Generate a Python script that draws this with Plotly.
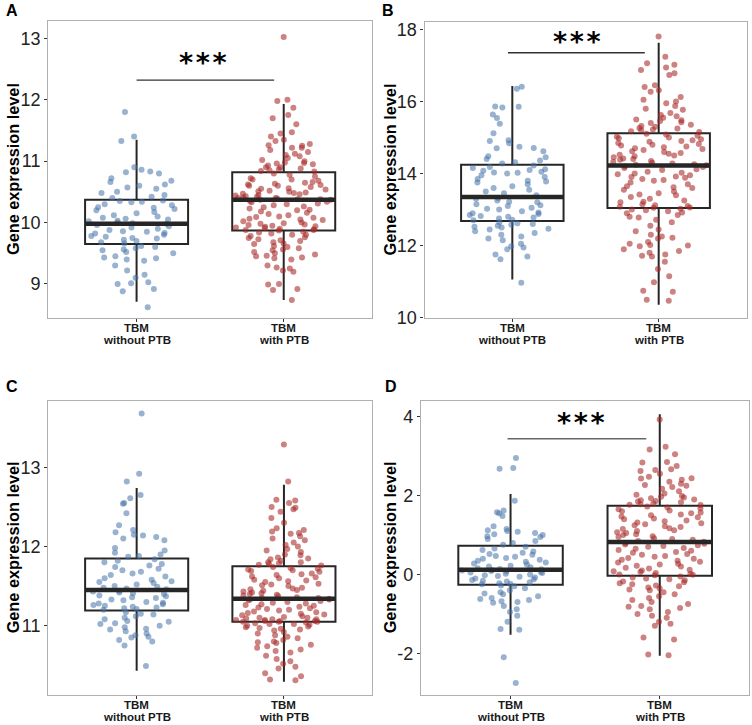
import plotly.graph_objects as go

# ---- data ----
CAT_LINE1 = ["TBM", "TBM"]
CAT_LINE2 = ["without PTB", "with PTB"]
PANELS = ["A", "B", "C", "D"]

A_WITHOUT = [
    11.80, 11.40, 11.33, 10.90, 10.86, 10.83, 10.82, 10.80, 10.72, 10.68, 10.66, 10.62, 10.60, 10.57,
    10.55, 10.50, 10.48, 10.45, 10.42, 10.40, 10.36, 10.35, 10.34, 10.33, 10.30, 10.28, 10.25, 10.24,
    10.22, 10.20, 10.17, 10.15, 10.12, 10.10, 10.08, 10.06, 10.05, 10.03, 10.02, 10.00, 9.99, 9.98,
    9.96, 9.94, 9.92, 9.90, 9.88, 9.86, 9.85, 9.83, 9.82, 9.80, 9.78, 9.77, 9.75, 9.74, 9.72, 9.70,
    9.68, 9.66, 9.62, 9.60, 9.58, 9.56, 9.55, 9.52, 9.50, 9.45, 9.43, 9.42, 9.40, 9.38, 9.30, 9.22,
    9.15, 9.10, 9.03, 9.01, 9.00, 8.92, 8.88, 8.62,
]
A_WITH = [
    13.02, 12.00, 11.98, 11.87, 11.75, 11.70, 11.60, 11.47, 11.45, 11.40, 11.35, 11.33, 11.28, 11.26,
    11.25, 11.22, 11.22, 11.18, 11.15, 11.12, 11.10, 11.08, 11.05, 11.02, 11.00, 10.98, 10.97, 10.96,
    10.95, 10.93, 10.90, 10.90, 10.88, 10.87, 10.85, 10.84, 10.83,
    10.80, 10.78, 10.75, 10.72, 10.70, 10.70, 10.68, 10.66, 10.65, 10.63, 10.62, 10.61, 10.60, 10.60,
    10.58, 10.56, 10.55, 10.54, 10.52, 10.51, 10.50, 10.49, 10.48, 10.47, 10.46, 10.45, 10.44, 10.43,
    10.42, 10.41, 10.40, 10.40, 10.39, 10.38, 10.38, 10.37, 10.37,
    10.35, 10.34, 10.33, 10.31, 10.30, 10.28, 10.26, 10.25, 10.23, 10.21, 10.20, 10.18, 10.16, 10.14,
    10.12, 10.10, 10.09, 10.08, 10.06, 10.05, 10.04, 10.02, 10.00, 9.99, 9.98, 9.97, 9.96, 9.95, 9.94,
    9.93, 9.92, 9.91, 9.90, 9.89, 9.88, 9.88, 9.87,
    9.85, 9.84, 9.82, 9.80, 9.80, 9.78, 9.76, 9.75, 9.73, 9.71, 9.70, 9.68, 9.66, 9.65, 9.62, 9.60,
    9.58, 9.56, 9.55, 9.52, 9.50, 9.48, 9.46, 9.45, 9.43, 9.42, 9.40, 9.30, 9.27, 9.25, 9.22, 9.20,
    9.00, 8.99, 8.92, 8.90, 8.74,
]

B_WITHOUT = [
    16.41, 16.35, 15.86, 15.85, 15.83, 15.64, 15.54, 15.38, 15.12, 14.92, 14.90, 14.84, 14.74, 14.71,
    14.70, 14.62, 14.48, 14.45, 14.40, 14.36, 14.31, 14.28,
    14.22, 14.18, 14.15, 14.12, 14.10, 14.08, 14.05, 14.03, 14.02, 14.00, 13.95, 13.90, 13.85, 13.80,
    13.78, 13.75, 13.70, 13.65, 13.60, 13.55, 13.50, 13.45, 13.40,
    13.32, 13.30, 13.25, 13.22, 13.20, 13.15, 13.12, 13.10, 13.05, 13.02, 13.00, 12.95, 12.92, 12.90,
    12.88, 12.85, 12.82, 12.80, 12.78, 12.75, 12.72, 12.70,
    12.65, 12.62, 12.60, 12.58, 12.55, 12.52, 12.50, 12.47, 12.45, 12.40, 12.35, 12.30, 12.25, 12.20,
    12.15, 12.05, 11.98, 11.95, 11.90, 11.75, 11.70, 11.62, 10.97,
]
B_WITH = [
    17.80, 17.24, 17.06, 17.02, 16.94, 16.87, 16.78, 16.73, 16.45, 16.40, 16.31, 16.27, 16.12, 16.05,
    16.00, 15.95, 15.87, 15.80, 15.77, 15.68, 15.62, 15.59, 15.55, 15.50, 15.48, 15.46, 15.42, 15.40,
    15.35, 15.32, 15.30, 15.26, 15.25, 15.22, 15.20, 15.17, 15.15,
    15.10, 15.08, 15.05, 15.02, 15.00, 14.98, 14.95, 14.92, 14.90, 14.88, 14.85, 14.82, 14.80, 14.78,
    14.75, 14.73, 14.70, 14.68, 14.65, 14.62, 14.60, 14.57, 14.55, 14.52, 14.50, 14.48, 14.45, 14.42,
    14.40, 14.38, 14.35, 14.32, 14.30, 14.28, 14.26, 14.24, 14.23,
    14.20, 14.18, 14.15, 14.12, 14.10, 14.05, 14.02, 14.00, 13.98, 13.95, 13.92, 13.90, 13.88, 13.85,
    13.82, 13.80, 13.75, 13.70, 13.65, 13.62, 13.60, 13.55, 13.50, 13.45, 13.42, 13.40, 13.35, 13.30,
    13.25, 13.22, 13.20, 13.15, 13.12, 13.10, 13.08, 13.06, 13.05,
    13.02, 13.00, 12.98, 12.95, 12.92, 12.90, 12.85, 12.80, 12.78, 12.72, 12.65, 12.55, 12.45, 12.40,
    12.30, 12.25, 12.22, 12.20, 12.10, 12.05, 12.02, 12.00, 11.98, 11.90, 11.85, 11.80, 11.75, 11.72,
    11.70, 11.55, 11.35, 11.15, 10.98, 10.75, 10.72, 10.50, 10.47,
]

C_WITHOUT = [
    13.68, 12.92, 12.82, 12.65, 12.61, 12.55, 12.54, 12.42, 12.27, 12.21, 12.18, 12.15, 12.14, 12.12,
    12.10, 12.08, 11.98, 11.95, 11.92, 11.90, 11.88, 11.87,
    11.84, 11.82, 11.80, 11.78, 11.76, 11.74, 11.72, 11.70, 11.68, 11.66, 11.64, 11.62, 11.60, 11.58,
    11.56, 11.55, 11.54, 11.52, 11.50, 11.49, 11.48, 11.47, 11.46,
    11.44, 11.43, 11.42, 11.41, 11.40, 11.38, 11.37, 11.36, 11.35, 11.33, 11.32, 11.30, 11.29, 11.28,
    11.27, 11.26, 11.25, 11.24, 11.23, 11.22, 11.21, 11.20,
    11.17, 11.15, 11.14, 11.12, 11.10, 11.08, 11.06, 11.05, 11.03, 11.02, 11.00, 10.98, 10.96, 10.95,
    10.93, 10.90, 10.88, 10.86, 10.85, 10.82, 10.80, 10.75, 10.49,
]
C_WITH = [
    13.29, 12.82, 12.59, 12.58, 12.55, 12.50, 12.49, 12.47, 12.44, 12.36, 12.30, 12.23, 12.21, 12.19,
    12.17, 12.16, 12.13, 12.10, 12.08, 12.05, 12.02, 12.00, 11.97, 11.95, 11.93, 11.90, 11.89, 11.86,
    11.85, 11.84, 11.82, 11.80, 11.80, 11.79, 11.78, 11.77, 11.76,
    11.74, 11.73, 11.72, 11.71, 11.70, 11.69, 11.68, 11.66, 11.65, 11.64, 11.62, 11.61, 11.60, 11.58,
    11.57, 11.56, 11.55, 11.53, 11.52, 11.51, 11.50, 11.48, 11.47, 11.46, 11.45, 11.44, 11.43, 11.42,
    11.41, 11.40, 11.39, 11.38, 11.37, 11.36, 11.35, 11.35, 11.34,
    11.33, 11.33, 11.32, 11.31, 11.30, 11.29, 11.28, 11.27, 11.26, 11.25, 11.24, 11.23, 11.22, 11.21,
    11.20, 11.19, 11.18, 11.17, 11.16, 11.15, 11.14, 11.13, 11.12, 11.11, 11.10, 11.10, 11.09, 11.08,
    11.08, 11.07, 11.07, 11.06, 11.06, 11.06, 11.05, 11.05, 11.05,
    11.04, 11.03, 11.02, 11.02, 11.01, 11.00, 10.99, 10.98, 10.97, 10.96, 10.95, 10.94, 10.92, 10.90,
    10.88, 10.86, 10.84, 10.82, 10.80, 10.79, 10.78, 10.76, 10.74, 10.72, 10.70, 10.68, 10.66, 10.62,
    10.58, 10.55, 10.52, 10.48, 10.46, 10.40, 10.36, 10.32, 10.31,
]

D_WITHOUT = [
    2.95, 2.70, 2.68, 1.87, 1.62, 1.58, 1.55, 1.48, 1.22, 1.15, 1.12, 1.10, 1.08, 1.05, 1.02, 1.00,
    0.97, 0.95, 0.90, 0.85, 0.80, 0.75,
    0.70, 0.66, 0.62, 0.58, 0.55, 0.52, 0.50, 0.47, 0.45, 0.42, 0.40, 0.37, 0.35, 0.32, 0.30, 0.28,
    0.25, 0.22, 0.20, 0.18, 0.16, 0.14, 0.13,
    0.11, 0.10, 0.09, 0.08, 0.06, 0.05, 0.04, 0.02, 0.00, -0.02, -0.04, -0.06, -0.08, -0.10, -0.12,
    -0.14, -0.16, -0.18, -0.20, -0.22, -0.24, -0.25,
    -0.28, -0.30, -0.35, -0.40, -0.45, -0.48, -0.50, -0.55, -0.60, -0.62, -0.65, -0.68, -0.70, -0.72,
    -0.80, -0.88, -0.95, -1.05, -1.20, -1.38, -1.40, -2.10, -2.75,
]
D_WITH = [
    3.93, 3.24, 3.17, 3.05, 2.85, 2.84, 2.75, 2.67, 2.65, 2.62, 2.55, 2.48, 2.44, 2.43, 2.40, 2.35,
    2.30, 2.27, 2.25, 2.22, 2.17, 2.11, 2.05, 2.02, 1.99, 1.97, 1.95, 1.93, 1.90, 1.88, 1.86, 1.85,
    1.83, 1.80, 1.78, 1.77, 1.76,
    1.72, 1.70, 1.68, 1.65, 1.62, 1.60, 1.57, 1.55, 1.52, 1.50, 1.47, 1.45, 1.42, 1.40, 1.37, 1.35,
    1.32, 1.30, 1.27, 1.25, 1.22, 1.20, 1.17, 1.15, 1.12, 1.10, 1.07, 1.05, 1.02, 1.00, 0.97, 0.95,
    0.92, 0.90, 0.88, 0.85, 0.83,
    0.80, 0.78, 0.76, 0.74, 0.72, 0.70, 0.67, 0.65, 0.62, 0.60, 0.57, 0.55, 0.52, 0.50, 0.47, 0.45,
    0.42, 0.40, 0.37, 0.35, 0.32, 0.30, 0.27, 0.25, 0.22, 0.20, 0.17, 0.15, 0.12, 0.10, 0.08, 0.06,
    0.04, 0.02, 0.00, -0.01, -0.02,
    -0.05, -0.08, -0.10, -0.12, -0.15, -0.18, -0.20, -0.22, -0.25, -0.28, -0.30, -0.33, -0.35, -0.38,
    -0.40, -0.45, -0.50, -0.55, -0.60, -0.65, -0.70, -0.75, -0.80, -0.82, -0.85, -0.88, -0.95, -1.00,
    -1.05, -1.10, -1.20, -1.25, -1.30, -1.60, -1.65, -2.03, -2.05,
]

# box statistics per panel: [without PTB, with PTB]
A_Q1, A_MEDIAN, A_Q3, A_LOWER, A_UPPER = [9.65, 9.87], [9.98, 10.37], [10.37, 10.82], [8.71, 8.74], [11.35, 11.93]
B_Q1, B_MEDIAN, B_Q3, B_LOWER, B_UPPER = [12.68, 13.04], [13.35, 14.22], [14.24, 15.12], [11.06, 10.36], [16.43, 17.63]
C_Q1, C_MEDIAN, C_Q3, C_LOWER, C_UPPER = [11.19, 11.05], [11.45, 11.34], [11.85, 11.75], [10.43, 10.29], [12.74, 12.78]
D_Q1, D_MEDIAN, D_Q3, D_LOWER, D_UPPER = [-0.26, -0.03], [0.12, 0.82], [0.73, 1.74], [-1.53, -2.06], [2.04, 4.06]

A_TICKS = [9, 10, 11, 12, 13]
B_TICKS = [10, 12, 14, 16, 18]
C_TICKS = [11, 12, 13]
D_TICKS = [-2, 0, 2, 4]

SIGNIF_LABEL = "***"

# ---- layout geometry (pixels in a 752x725 page) ----
W, H = 752, 725
FONT = "Liberation Sans, Arial, sans-serif"
BLUE = "rgba(70,115,168,0.55)"
RED = "rgba(168,40,40,0.58)"
BOX_LINE = "#262626"
BOX_WIDTH = 0.7

panels = {
    "A": dict(px=(48.3, 372.0), py=(20.7, 318.3), xr=(0.4, 2.6), yr=(8.441, 13.287),
              ticks=A_TICKS, pts=(A_WITHOUT, A_WITH),
              stats=(A_Q1, A_MEDIAN, A_Q3, A_LOWER, A_UPPER),
              sig=dict(x0=1.0, x1=1.935, y=12.32, tx=1.45, ty=12.61, color="#333")),
    "B": dict(px=(424.5, 746.5), py=(21.7, 318.3), xr=(0.4, 2.6), yr=(9.983, 18.212),
              ticks=B_TICKS, pts=(B_WITHOUT, B_WITH),
              stats=(B_Q1, B_MEDIAN, B_Q3, B_LOWER, B_UPPER),
              sig=dict(x0=0.97, x1=1.905, y=17.35, tx=1.44, ty=17.66, color="#333")),
    "C": dict(px=(48.3, 372.3), py=(400.7, 695.0), xr=(0.4, 2.6), yr=(10.124, 13.842),
              ticks=C_TICKS, pts=(C_WITHOUT, C_WITH),
              stats=(C_Q1, C_MEDIAN, C_Q3, C_LOWER, C_UPPER), sig=None),
    "D": dict(px=(421.0, 749.3), py=(400.7, 695.0), xr=(0.4, 2.6), yr=(-3.056, 4.405),
              ticks=D_TICKS, pts=(D_WITHOUT, D_WITH),
              stats=(D_Q1, D_MEDIAN, D_Q3, D_LOWER, D_UPPER),
              sig=dict(x0=0.98, x1=1.91, y=3.44, tx=1.47, ty=3.85, color="#666")),
}
letter_pos = {"A": (4, 11), "B": (380, 11), "C": (4, 386), "D": (383, 386)}
ytitle_x = {"A": 12.5, "B": 389.5, "C": 12.5, "D": 389.5}

fig = go.Figure()
layout = {}
annotations = []
shapes = []

for i, name in enumerate(PANELS):
    p = panels[name]
    sfx = "" if i == 0 else str(i + 1)
    xa, ya = "x" + sfx, "y" + sfx
    q1, med, q3, lo, hi = p["stats"]

    # boxes
    fig.add_trace(go.Box(
        x=[1, 2], q1=q1, median=med, q3=q3, lowerfence=lo, upperfence=hi,
        width=BOX_WIDTH, whiskerwidth=0, fillcolor="white",
        line=dict(color=BOX_LINE, width=2), boxpoints=False,
        showlegend=False, hoverinfo="skip", xaxis=xa, yaxis=ya,
    ))
    # thicker median bars
    for k, m in enumerate(med):
        fig.add_trace(go.Scatter(
            x=[k + 1 - BOX_WIDTH / 2, k + 1 + BOX_WIDTH / 2], y=[m, m], mode="lines",
            line=dict(color=BOX_LINE, width=4.5), showlegend=False, hoverinfo="skip",
            xaxis=xa, yaxis=ya,
        ))
    # jittered points
    for k, (vals, col) in enumerate(zip(p["pts"], (BLUE, RED))):
        fig.add_trace(go.Box(
            y=vals, x0=k + 1, width=0.66, boxpoints="all", jitter=1, pointpos=0,
            marker=dict(color=col, size=6, line=dict(width=0)),
            line=dict(width=0, color="rgba(0,0,0,0)"), fillcolor="rgba(0,0,0,0)",
            showlegend=False, hoverinfo="skip", xaxis=xa, yaxis=ya,
        ))

    axis_common = dict(
        ticks="outside", ticklen=3, tickcolor="#333", tickwidth=1,
        showgrid=False, zeroline=False, showline=True, mirror=True,
        linecolor="#b0b0b0", linewidth=1.3, automargin=False,
    )
    layout["xaxis" + sfx] = dict(
        domain=[p["px"][0] / W, p["px"][1] / W], anchor=ya, range=list(p["xr"]),
        tickvals=[1, 2], showticklabels=False, **axis_common,
    )
    layout["yaxis" + sfx] = dict(
        domain=[1 - p["py"][1] / H, 1 - p["py"][0] / H], anchor=xa, range=list(p["yr"]),
        tickvals=p["ticks"], ticktext=[str(t) for t in p["ticks"]],
        tickfont=dict(family=FONT, size=18, color="#222"),
        **axis_common,
    )

    # category labels under each box (two lines, tight spacing)
    bottom = p["py"][1]
    for k in range(2):
        for txt, dy in ((CAT_LINE1[k], 9.5), (CAT_LINE2[k], 22.0)):
            annotations.append(dict(
                text="<b>%s</b>" % txt, x=k + 1, y=1 - (bottom + dy) / H, xref=xa, yref="paper",
                xanchor="center", yanchor="middle", showarrow=False,
                font=dict(family=FONT, size=11.5, color="#1a1a1a"),
            ))

    lx, ly = letter_pos[name]
    annotations.append(dict(
        text="<b>%s</b>" % name, x=lx / W, y=1 - ly / H, xref="paper", yref="paper",
        xanchor="left", yanchor="middle", showarrow=False,
        font=dict(family=FONT, size=16, color="black"),
    ))
    annotations.append(dict(
        text="<b>Gene expression level</b>", textangle=-90,
        x=ytitle_x[name] / W, y=1 - (p["py"][0] + p["py"][1]) / 2 / H,
        xref="paper", yref="paper", xanchor="center", yanchor="middle", showarrow=False,
        font=dict(family=FONT, size=16.3, color="black"),
    ))

    s = p["sig"]
    if s:
        shapes.append(dict(type="line", xref=xa, yref=ya, x0=s["x0"], x1=s["x1"],
                           y0=s["y"], y1=s["y"], line=dict(color=s["color"], width=1.3)))
        annotations.append(dict(
            text="<b>" + "\u200a".join(SIGNIF_LABEL) + "</b>", x=s["tx"], y=s["ty"],
            xref=xa, yref=ya, xanchor="center", yanchor="middle", showarrow=False,
            font=dict(family="DejaVu Sans", size=27, color="black"),
        ))

fig.update_layout(
    width=W, height=H, margin=dict(l=0, r=0, t=0, b=0, autoexpand=False),
    paper_bgcolor="white", plot_bgcolor="white",
    boxmode="overlay", annotations=annotations, shapes=shapes,
    **layout,
)

# the page body has a default 8px margin; drop it so the figure sits at the window's corner
fig.write_html("out.html", config={"displayModeBar": False},
               post_script="document.body.style.margin = '0px';")
